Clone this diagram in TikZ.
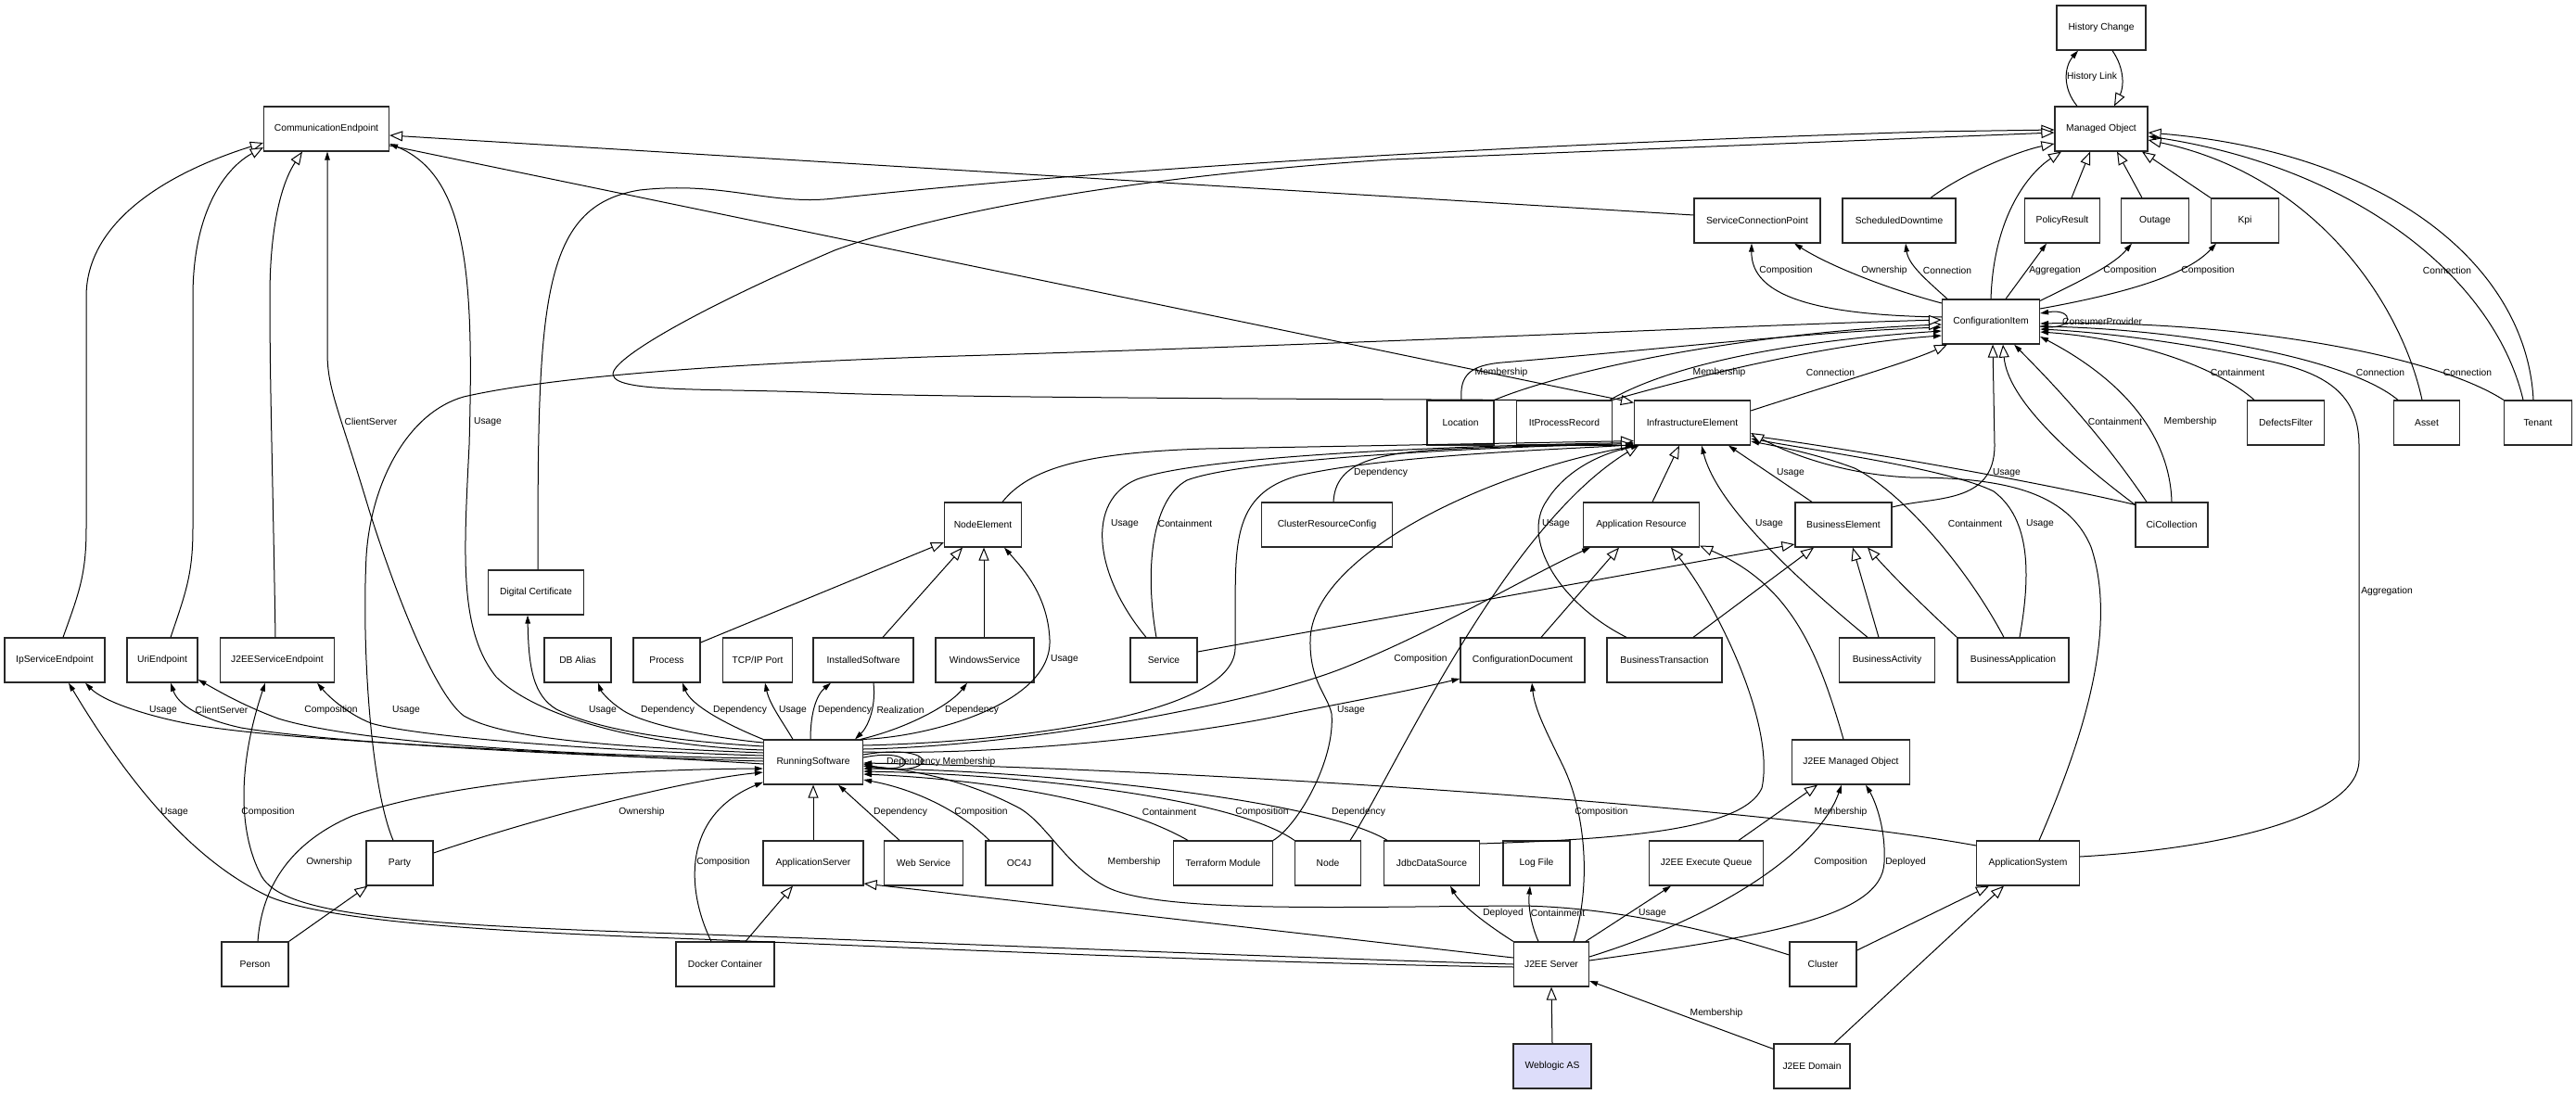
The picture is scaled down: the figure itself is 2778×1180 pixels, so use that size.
\documentclass[tikz,border=0pt]{standalone}
\usepackage{fontspec}
\setmainfont{Liberation Sans}
\usetikzlibrary{arrows.meta}
\definecolor{wl}{RGB}{221,221,250}
\definecolor{bx}{RGB}{40,40,40}
\begin{document}
\begin{tikzpicture}[x=1pt,y=-1pt,
  box/.style={draw=bx, line width=1.2pt, fill=white, minimum height=48pt, inner sep=0pt, font=\fontsize{10.3}{12}\selectfont},
  gen/.style={line width=1pt, -{Triangle[length=14pt,width=11pt,fill=white]}},
  asc/.style={line width=1pt, -{Triangle[length=9pt,width=5.5pt]}},
  lbl/.style={inner sep=0pt, font=\fontsize{10.3}{12}\selectfont}]
\fill[white] (0,0) rectangle (2778,1180);
\useasboundingbox (0,0) rectangle (2778,1180);

% ---------------- nodes
\node[box, minimum width=96pt] (HC) at (2266,30) {History Change};
\node[box, minimum width=100pt] (MO) at (2266,139) {Managed Object};
\node[box, minimum width=135pt] (CE) at (352,139) {CommunicationEndpoint};
\node[box, minimum width=136pt] (SCP) at (1895,238) {ServiceConnectionPoint};
\node[box, minimum width=122pt] (SD) at (2048,238) {ScheduledDowntime};
\node[box, minimum width=81pt] (PR) at (2224,238) {PolicyResult};
\node[box, minimum width=73pt] (OUT) at (2324,238) {Outage};
\node[box, minimum width=73pt] (KPI) at (2421,238) {Kpi};
\node[box, minimum width=105pt] (CI) at (2147,347) {ConfigurationItem};
\node[box, minimum width=72pt] (LOC) at (1575,456) {Location};
\node[box, minimum width=103pt] (ITP) at (1687,456) {ItProcessRecord};
\node[box, minimum width=125pt] (IE) at (1825,456) {InfrastructureElement};
\node[box, minimum width=83pt] (DF) at (2465,456) {DefectsFilter};
\node[box, minimum width=71pt] (AS) at (2617,456) {Asset};
\node[box, minimum width=73pt] (TEN) at (2737,456) {Tenant};
\node[box, minimum width=83pt] (NE) at (1060,566) {NodeElement};
\node[box, minimum width=141pt] (CRC) at (1431,566) {ClusterResourceConfig};
\node[box, minimum width=125pt] (AR) at (1770,566) {Application Resource};
\node[box, minimum width=104pt] (BE) at (1988,566) {BusinessElement};
\node[box, minimum width=78pt] (CIC) at (2342,566) {CiCollection};
\node[box, minimum width=103pt] (DC) at (578,639) {Digital Certificate};
\node[box, minimum width=108pt] (IPSE) at (59,712) {IpServiceEndpoint};
\node[box, minimum width=76pt] (URI) at (175,712) {UriEndpoint};
\node[box, minimum width=123pt] (J2SE) at (299,712) {J2EEServiceEndpoint};
\node[box, minimum width=72pt] (DBA) at (623,712) {DB Alias};
\node[box, minimum width=72pt] (PROC) at (719,712) {Process};
\node[box, minimum width=75pt] (TCP) at (817,712) {TCP/IP Port};
\node[box, minimum width=108pt] (IS) at (931,712) {InstalledSoftware};
\node[box, minimum width=106pt] (WS) at (1062,712) {WindowsService};
\node[box, minimum width=72pt] (SVC) at (1255,712) {Service};
\node[box, minimum width=134pt] (CD) at (1642,712) {ConfigurationDocument};
\node[box, minimum width=124pt] (BT) at (1795,712) {BusinessTransaction};
\node[box, minimum width=103pt] (BA) at (2035,712) {BusinessActivity};
\node[box, minimum width=120pt] (BAPP) at (2171,712) {BusinessApplication};
\node[box, minimum width=107pt] (RS) at (877,822) {RunningSoftware};
\node[box, minimum width=127pt] (JMO) at (1996,822) {J2EE Managed Object};
\node[box, minimum width=72pt] (PARTY) at (431,931) {Party};
\node[box, minimum width=108pt] (ASRV) at (877,931) {ApplicationServer};
\node[box, minimum width=85pt] (WEB) at (996,931) {Web Service};
\node[box, minimum width=72pt] (OC4J) at (1099,931) {OC4J};
\node[box, minimum width=107pt] (TF) at (1319,931) {Terraform Module};
\node[box, minimum width=71pt] (NODE) at (1432,931) {Node};
\node[box, minimum width=103pt] (JDBC) at (1544,931) {JdbcDataSource};
\node[box, minimum width=72pt] (LOG) at (1657,931) {Log File};
\node[box, minimum width=123pt] (JEQ) at (1840,931) {J2EE Execute Queue};
\node[box, minimum width=111pt] (ASYS) at (2187,931) {ApplicationSystem};
\node[box, minimum width=72pt] (PERSON) at (275,1040) {Person};
\node[box, minimum width=106pt] (DOCK) at (782,1040) {Docker Container};
\node[box, minimum width=81pt] (J2S) at (1673,1040) {J2EE Server};
\node[box, minimum width=72pt] (CLU) at (1966,1040) {Cluster};
\node[box, minimum width=84pt, fill=wl] (WL) at (1674,1150) {Weblogic AS};
\node[box, minimum width=82pt] (JDOM) at (1954,1150) {J2EE Domain};

% ---------------- top region
\draw[asc] ([xshift=-26pt]MO.north) .. controls (2224,95) and (2226,72) .. ([xshift=-25pt]HC.south);
\draw[gen] ([xshift=12pt]HC.south) .. controls (2292,75) and (2290,95) .. ([xshift=14pt]MO.north);
\draw[gen] ([yshift=6pt]SCP.west) -- ([yshift=-7pt]CE.east);
\draw[gen] ([xshift=2pt]DC.north) .. controls (580,330) and (582,222) .. (690,205) .. controls (780,195) and (830,222) .. (900,214) .. controls (1100,192) and (1500,160) .. (2080,142) -- ([yshift=-1pt]MO.west);
\draw[gen] (ITP.north west) .. controls (1300,430) and (1000,428) .. (900,424) .. controls (760,418) and (650,425) .. (662,400) .. controls (672,380) and (760,330) .. (900,270) .. controls (1050,215) and (1300,185) .. (1500,172) -- ([yshift=-4pt]MO.west);
\draw[gen] ([yshift=-18pt]CE.east) -- ([yshift=-3pt]IE.north west);
\draw[asc] ([yshift=13pt]RS.west) .. controls (700,805) and (580,775) .. (535,730) .. controls (495,680) and (500,600) .. (506,480) .. controls (511,300) and (505,190) .. ([yshift=-16pt]CE.east);
\draw[asc] ([yshift=10pt]RS.west) .. controls (640,805) and (540,795) .. (500,772) .. controls (465,745) and (420,620) .. (398,550) .. controls (365,440) and (353,420) .. (353,380) -- ([xshift=1pt]CE.south);
\draw[gen] ([xshift=9pt]IPSE.north) .. controls (85,640) and (93,620) .. (93,570) -- (93,320) .. controls (93,230) and (200,180) .. ([yshift=-15pt]CE.west);
\draw[gen] ([xshift=9pt]URI.north) .. controls (200,640) and (208,620) .. (208,570) -- (208,320) .. controls (208,225) and (245,180) .. ([yshift=-20pt]CE.west);
\draw[gen] ([xshift=-2pt]J2SE.north) .. controls (294,500) and (291,420) .. (291,320) .. controls (291,240) and (305,195) .. ([xshift=-26pt]CE.south);

% ---------------- CI to upper boxes
\draw[asc] ([yshift=5pt]CI.west) .. controls (1960,340) and (1888,320) .. ([xshift=-6pt]SCP.south);
\draw[asc] ([yshift=20pt]CI.west) .. controls (2030,310) and (1970,285) .. ([xshift=40pt]SCP.south);
\draw[asc] ([xshift=-47pt]CI.north) .. controls (2075,300) and (2058,285) .. ([xshift=7pt]SD.south);
\draw[asc] ([xshift=16pt]CI.north) -- ([xshift=-17pt]PR.south);
\draw[asc] ([yshift=-2pt]CI.north east) .. controls (2250,300) and (2280,285) .. ([xshift=-25pt]OUT.south);
\draw[asc] ([yshift=14pt]CI.east) .. controls (2300,315) and (2360,295) .. ([xshift=-31pt]KPI.south);
\draw[gen] (CI.north) .. controls (2150,230) and (2190,185) .. ([xshift=-43pt]MO.south);
\draw[gen] ([xshift=34pt]SD.north) .. controls (2120,185) and (2180,162) .. ([yshift=-16pt]MO.west);
\draw[gen] ([xshift=10pt]PR.north) -- ([xshift=-12pt]MO.south);
\draw[gen] ([xshift=-14pt]OUT.north) -- ([xshift=17pt]MO.south);
\draw[gen] (KPI.north west) -- ([xshift=44pt]MO.south);
\draw[gen] ([xshift=-5pt]AS.north) .. controls (2590,330) and (2500,190) .. ([yshift=-12pt]MO.east);
\draw[asc] ([xshift=-16pt]TEN.north) .. controls (2690,300) and (2540,180) .. ([yshift=-8pt]MO.east);
\draw[gen] ([xshift=-5pt]TEN.north) .. controls (2725,290) and (2580,165) .. ([yshift=-4pt]MO.east);

% ---------------- CI incoming
\draw[asc] ([yshift=-5pt]CI.east) .. controls (2238,358) and (2238,332) .. ([yshift=9pt]CI.east);
\draw[asc] ([xshift=-34pt]DF.north) .. controls (2390,395) and (2300,365) .. ([yshift=-11pt]CI.east);
\draw[asc] ([xshift=-31pt]AS.north) .. controls (2530,385) and (2350,355) .. ([yshift=-5pt]CI.east);
\draw[asc] (TEN.north west) .. controls (2620,380) and (2400,345) .. ([yshift=-2pt]CI.east);
\draw[asc] ([yshift=7pt]ASYS.east) .. controls (2400,915) and (2544,880) .. (2544,820) -- (2544,480) .. controls (2544,420) and (2500,400) .. (2440,388) .. controls (2350,368) and (2260,358) .. ([yshift=-8pt]CI.east);
\draw[asc] (CIC.north) .. controls (2340,470) and (2290,410) .. ([yshift=-16pt]CI.east);
\draw[asc] ([xshift=-27pt]CIC.north) .. controls (2260,460) and (2200,400) .. ([xshift=25pt]CI.south);
\draw[gen] ([yshift=-3pt]CIC.north west) .. controls (2230,490) and (2165,430) .. ([xshift=13pt]CI.south);
\draw[gen] ([yshift=19pt]BE.east) .. controls (2085,535) and (2151,545) .. (2151,480) -- ([xshift=2pt]CI.south);
\draw[gen] ([yshift=13pt]IE.east) .. controls (1990,410) and (2060,390) .. ([xshift=-47pt]CI.south);
\draw[asc] ([xshift=-3pt]ITP.north east) .. controls (1790,400) and (1900,370) .. ([yshift=-10pt]CI.west);
\draw[asc] (ITP.north east) .. controls (1850,400) and (1980,370) .. ([yshift=-15pt]CI.west);
\draw[asc] ([xshift=1pt]LOC.north) .. controls (1574,405) and (1585,394) .. (1620,391) .. controls (1800,376) and (1950,358) .. ([yshift=-6pt]CI.west);
\draw[gen] (LOC.north east) .. controls (1700,395) and (1900,358) .. ([yshift=-3pt]CI.west);
\draw[gen] ([xshift=-7pt]PARTY.north) .. controls (400,850) and (390,700) .. (395,600) .. controls (400,520) and (440,445) .. (500,428) .. controls (600,405) and (800,392) .. (1000,385) .. controls (1500,370) and (1900,350) .. ([yshift=2pt]CI.west);

% ---------------- InfrastructureElement incoming
\draw[asc] ([xshift=-19pt]SVC.north) .. controls (1180,620) and (1170,540) .. (1226,517) .. controls (1300,490) and (1600,480) .. ([yshift=3pt]IE.south west);
\draw[asc] ([xshift=-8pt]SVC.north) .. controls (1235,620) and (1240,540) .. (1280,518) .. controls (1340,495) and (1600,482) .. ([yshift=2pt]IE.south west);
\draw[gen] ([xshift=21pt]NE.north) .. controls (1110,505) and (1170,488) .. (1300,484) -- ([yshift=5pt]IE.south west);
\draw[gen] ([yshift=18pt]RS.east) .. controls (1100,800) and (1330,770) .. (1332,700) .. controls (1334,600) and (1320,535) .. (1400,513) .. controls (1500,490) and (1700,484) .. ([yshift=1pt]IE.south west);
\draw[asc] ([xshift=7pt]CRC.north) .. controls (1440,500) and (1480,490) .. (1550,485) .. controls (1650,480) and (1720,480) .. (IE.south west);
\draw[asc] (TF.north east) .. controls (1400,890) and (1440,820) .. (1436,770) .. controls (1432,750) and (1412,735) .. (1413,690) .. controls (1415,600) and (1600,510) .. ([xshift=3pt]IE.south west);
\draw[gen] ([xshift=24pt]NODE.north) .. controls (1500,840) and (1620,570) .. ([xshift=5pt]IE.south west);
\draw[asc] ([xshift=-41pt]BT.north) .. controls (1680,650) and (1640,580) .. (1668,540) .. controls (1690,505) and (1730,488) .. ([xshift=6pt]IE.south west);
\draw[gen] ([xshift=12pt]AR.north) -- ([xshift=-14pt]IE.south);
\draw[asc] ([xshift=-34pt]BE.north) -- ([xshift=39pt]IE.south);
\draw[asc] ([xshift=-21pt]BA.north) .. controls (1920,610) and (1850,540) .. ([xshift=10pt]IE.south);
\draw[asc] ([xshift=-10pt]BAPP.north) .. controls (2120,610) and (2050,530) .. (2000,505) .. controls (1960,490) and (1920,482) .. ([yshift=-20pt]IE.east);
\draw[asc] ([xshift=7pt]BAPP.north) .. controls (2190,620) and (2190,560) .. (2150,530) .. controls (2100,505) and (1950,485) .. ([yshift=-17pt]IE.east);
\draw[asc] ([yshift=-3pt]CIC.north west) .. controls (2200,520) and (2000,485) .. ([yshift=-14pt]IE.east);
\draw[gen] ([xshift=12pt]ASYS.north) .. controls (2245,800) and (2285,680) .. (2255,590) .. controls (2230,530) and (2160,515) .. (2060,515) .. controls (1990,512) and (1930,490) .. ([yshift=-11pt]IE.east);

% ---------------- Application Resource / BusinessElement / NodeElement
\draw[gen] ([xshift=20pt]CD.north) -- ([xshift=-24pt]AR.south);
\draw[gen] ([xshift=-8pt]JMO.north) .. controls (1960,700) and (1930,630) .. ([yshift=2pt]AR.south east);
\draw[gen] ([yshift=21pt]JDBC.east) .. controls (1750,905) and (1880,895) .. (1900,850) .. controls (1915,780) and (1850,650) .. ([xshift=32pt]AR.south);
\draw[gen] ([xshift=31pt]BT.north) -- ([xshift=-32pt]BE.south);
\draw[gen] ([xshift=-9pt]BA.north) -- ([xshift=10pt]BE.south);
\draw[gen] (BAPP.north west) .. controls (2070,650) and (2040,620) .. ([xshift=26pt]BE.south);
\draw[gen] ([yshift=9pt]SVC.east) -- ([yshift=-21pt]BE.west);
\draw[gen] ([yshift=19pt]PROC.east) -- ([yshift=-19pt]NE.west);
\draw[gen] ([xshift=21pt]IS.north) -- ([xshift=-22pt]NE.south);
\draw[gen] ([xshift=-1pt]WS.north) -- ([xshift=1pt]NE.south);

% ---------------- RunningSoftware upward
\draw[asc] (RS.north east) .. controls (1000,795) and (1135,760) .. (1132,690) .. controls (1130,640) and (1100,610) .. ([xshift=23pt]NE.south);
\draw[asc] ([xshift=-3pt]RS.north east) .. controls (980,785) and (1025,760) .. ([xshift=-19pt]WS.south);
\draw[asc] ([xshift=11pt]IS.south) .. controls (945,765) and (935,785) .. ([xshift=45pt]RS.north);
\draw[asc] ([xshift=-3pt]RS.north) .. controls (874,770) and (880,750) .. ([xshift=-35pt]IS.south);
\draw[asc] ([xshift=-22pt]RS.north) .. controls (845,780) and (830,760) .. ([xshift=8pt]TCP.south);
\draw[asc] (RS.north west) .. controls (780,780) and (745,760) .. ([xshift=17pt]PROC.south);
\draw[asc] ([yshift=21pt]RS.west) .. controls (760,795) and (690,780) .. (670,765) .. controls (655,755) and (648,745) .. ([xshift=22pt]DBA.south);
\draw[asc] ([yshift=17pt]RS.west) .. controls (740,800) and (650,790) .. (600,765) .. controls (575,750) and (570,720) .. ([xshift=-9pt]DC.south);

% ---------------- RunningSoftware right
\draw[asc] ([yshift=14pt]RS.east) .. controls (1100,805) and (1350,760) .. (1450,720) .. controls (1550,680) and (1650,620) .. ([xshift=-55pt]AR.south);
\draw[asc] ([yshift=11pt]RS.east) .. controls (1100,815) and (1300,790) .. (1390,770) .. controls (1450,758) and (1520,745) .. ([yshift=-20pt]CD.west);
\draw[asc] ([yshift=8pt]RS.east) .. controls (1015,800) and (1015,840) .. ([yshift=-4pt]RS.east);
\draw[asc] ([yshift=5pt]RS.east) .. controls (990,805) and (990,838) .. ([yshift=-2pt]RS.east);
\draw[asc] ([xshift=-26pt]WEB.north) -- ([xshift=27pt]RS.south);
\draw[asc] ([xshift=-32pt]OC4J.north) .. controls (1030,870) and (980,850) .. ([yshift=-19pt]RS.east);
\draw[asc] ([yshift=10pt]CLU.west) .. controls (1820,995) and (1720,978) .. (1640,977) .. controls (1450,978) and (1250,985) .. (1194,957) .. controls (1150,935) and (1130,890) .. (1100,872) .. controls (1040,840) and (980,830) .. ([yshift=-4pt]RS.east);
\draw[asc] ([xshift=-38pt]TF.north) .. controls (1200,860) and (1050,840) .. ([yshift=-13pt]RS.east);
\draw[asc] (NODE.north west) .. controls (1330,860) and (1100,835) .. ([yshift=-10pt]RS.east);
\draw[asc] ([xshift=-48pt]JDBC.north) .. controls (1420,860) and (1100,830) .. ([yshift=-7pt]RS.east);
\draw[asc] ([yshift=19pt]ASYS.west) .. controls (1900,870) and (1300,830) .. ([yshift=-1pt]RS.east);

% ---------------- RunningSoftware left
\draw[asc] ([yshift=-2pt]RS.west) .. controls (600,810) and (300,800) .. (200,780) .. controls (150,770) and (110,755) .. ([xshift=33pt]IPSE.south);
\draw[asc] ([yshift=1pt]RS.west) .. controls (600,815) and (350,800) .. (260,785) .. controls (215,775) and (192,760) .. ([xshift=9pt]URI.south);
\draw[asc] ([yshift=4pt]RS.west) .. controls (600,815) and (380,800) .. (300,775) .. controls (260,760) and (235,745) .. ([yshift=-21pt]URI.east);
\draw[asc] ([yshift=7pt]RS.west) .. controls (650,810) and (450,795) .. (400,780) .. controls (375,770) and (355,752) .. ([xshift=43pt]J2SE.south);
\draw[asc] ([xshift=3pt]PERSON.north) .. controls (282,960) and (310,910) .. (380,880) .. controls (480,845) and (650,830) .. ([yshift=-7pt]RS.west);
\draw[asc] ([yshift=11pt]PARTY.east) .. controls (600,875) and (750,840) .. ([yshift=-11pt]RS.west);
\draw[asc] ([xshift=-15pt]DOCK.north) .. controls (740,960) and (735,880) .. ([yshift=3pt]RS.south west);
\draw[gen] (ASRV.north) -- (RS.south);
\draw[gen] ([xshift=22pt]DOCK.north) -- ([xshift=-22pt]ASRV.south);
\draw[gen] ([yshift=7pt]J2S.west) -- ([yshift=-22pt]ASRV.east);
\draw[asc] (J2S.west) .. controls (1300,1030) and (900,1012) .. (700,1006) .. controls (420,996) and (305,985) .. (282,945) .. controls (255,895) and (258,820) .. ([xshift=-13pt]J2SE.south);
\draw[asc] ([yshift=-3pt]J2S.west) .. controls (1300,1038) and (900,1018) .. (700,1011) .. controls (500,1003) and (350,992) .. (290,967) .. controls (200,925) and (130,830) .. ([xshift=15pt]IPSE.south);
\draw[gen] (PERSON.north east) -- ([xshift=2pt]PARTY.south west);

% ---------------- J2EE Server group
\draw[gen] (WL.north) -- (J2S.south);
\draw[asc] ([yshift=-6pt]JDOM.north west) -- ([yshift=-18pt]J2S.east);
\draw[gen] ([xshift=24pt]JDOM.north) -- ([xshift=-26pt]ASYS.south);
\draw[gen] ([yshift=15pt]CLU.east) -- ([xshift=-42pt]ASYS.south);
\draw[asc] (J2S.north west) .. controls (1600,995) and (1575,975) .. ([xshift=20pt]JDBC.south);
\draw[asc] ([xshift=-14pt]J2S.north) .. controls (1650,995) and (1648,975) .. ([xshift=-7pt]LOG.south);
\draw[asc] ([xshift=24pt]J2S.north) .. controls (1715,960) and (1712,880) .. (1685,825) .. controls (1668,790) and (1655,765) .. ([xshift=10pt]CD.south);
\draw[asc] ([xshift=37pt]J2S.north) -- ([xshift=-38pt]JEQ.south);
\draw[asc] ([yshift=8pt]J2S.east) .. controls (1850,990) and (1960,920) .. ([xshift=-10pt]JMO.south);
\draw[asc] ([yshift=4pt]J2S.east) .. controls (1900,1010) and (2030,990) .. (2032,930) .. controls (2034,890) and (2020,860) .. ([xshift=16pt]JMO.south);
\draw[gen] ([xshift=35pt]JEQ.north) -- ([xshift=-36pt]JMO.south);

% ---------------- labels
\node[lbl] (l01) at (2256,83) {History Link};
\node[lbl] (l02) at (1926,292) {Composition};
\node[lbl] (l03) at (2032,292) {Ownership};
\node[lbl] (l04) at (2100,292) {Connection};
\node[lbl] (l05) at (2216,292) {Aggregation};
\node[lbl] (l06) at (2297,292) {Composition};
\node[lbl] (l07) at (2381,292) {Composition};
\node[lbl] (l08) at (2639,292) {Connection};
\node[lbl] (l09) at (2267,347) {ConsumerProvider};
\node[lbl] (l10) at (1619,402) {Membership};
\node[lbl] (l11) at (1854,402) {Membership};
\node[lbl] (l12) at (1974,402) {Connection};
\node[lbl] (l13) at (2413,402) {Containment};
\node[lbl] (l14) at (2567,402) {Connection};
\node[lbl] (l15) at (2661,402) {Connection};
\node[lbl] (l16) at (400,455) {ClientServer};
\node[lbl] (l17) at (526,455) {Usage};
\node[lbl] (l18) at (2281,455) {Containment};
\node[lbl] (l19) at (2362,455) {Membership};
\node[lbl] (l20) at (1489,510) {Dependency};
\node[lbl] (l21) at (1931,510) {Usage};
\node[lbl] (l22) at (2164,510) {Usage};
\node[lbl] (l23) at (1213,565) {Usage};
\node[lbl] (l24) at (1278,565) {Containment};
\node[lbl] (l25) at (1678,565) {Usage};
\node[lbl] (l26) at (1908,565) {Usage};
\node[lbl] (l27) at (2130,565) {Containment};
\node[lbl] (l28) at (2200,565) {Usage};
\node[lbl] (l29) at (2574,638) {Aggregation};
\node[lbl] (l30) at (1148,711) {Usage};
\node[lbl] (l31) at (1532,711) {Composition};
\node[lbl] (l32) at (176,766) {Usage};
\node[lbl] (l33) at (239,766) {ClientServer};
\node[lbl] (l34) at (357,766) {Composition};
\node[lbl] (l35) at (438,766) {Usage};
\node[lbl] (l36) at (650,766) {Usage};
\node[lbl] (l37) at (720,766) {Dependency};
\node[lbl] (l38) at (798,766) {Dependency};
\node[lbl] (l39) at (855,766) {Usage};
\node[lbl] (l40) at (911,766) {Dependency};
\node[lbl] (l41) at (971,766) {Realization};
\node[lbl] (l42) at (1048,766) {Dependency};
\node[lbl] (l43) at (1457,766) {Usage};
\node[lbl] (l44) at (985,822) {Dependency};
\node[lbl] (l45) at (1045,822) {Membership};
\node[lbl] (l46) at (188,876) {Usage};
\node[lbl] (l47) at (289,876) {Composition};
\node[lbl] (l48) at (692,876) {Ownership};
\node[lbl] (l49) at (971,876) {Dependency};
\node[lbl] (l50) at (1058,876) {Composition};
\node[lbl] (l51) at (1261,876) {Containment};
\node[lbl] (l52) at (1361,876) {Composition};
\node[lbl] (l53) at (1465,876) {Dependency};
\node[lbl] (l54) at (1727,876) {Composition};
\node[lbl] (l55) at (1985,876) {Membership};
\node[lbl] (l56) at (355,930) {Ownership};
\node[lbl] (l57) at (780,930) {Composition};
\node[lbl] (l58) at (1223,930) {Membership};
\node[lbl] (l59) at (1985,930) {Composition};
\node[lbl] (l60) at (2055,930) {Deployed};
\node[lbl] (l61) at (1621,985) {Deployed};
\node[lbl] (l62) at (1680,985) {Containment};
\node[lbl] (l63) at (1782,985) {Usage};
\node[lbl] (l64) at (1851,1093) {Membership};
\end{tikzpicture}
\end{document}
